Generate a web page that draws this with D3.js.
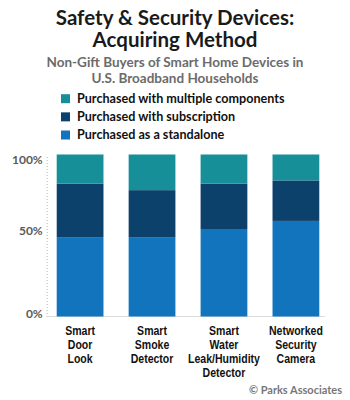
<!DOCTYPE html>
<html>
<head>
<meta charset="utf-8">
<script src="https://cdn.jsdelivr.net/npm/d3@7"></script>
<style>
  html, body { margin: 0; padding: 0; background: #fff; }
  svg { display: block; }
</style>
</head>
<body>
<svg id="chart" width="350" height="400"></svg>
<script>
// ---- Data ----
const categories = [
  ["Smart", "Door", "Look"],
  ["Smart", "Smoke", "Detector"],
  ["Smart", "Water", "Leak/Humidity", "Detector"],
  ["Networked", "Security", "Camera"]
];
const seriesNames = [
  "Purchased as a standalone",
  "Purchased with subscription",
  "Purchased with multiple components"
];
const standalone = [49, 49, 54, 59];
const subscription = [33, 29, 28, 25];
const multiple = [18, 22, 18, 16];
const yTicks = [0, 50, 100];
const yTickLabels = ["0%", "50%", "100%"];

const colors = ["#1174bc", "#0c416c", "#168f99"];

// ---- Build ----
const svg = d3.select("#chart");
const font = "Lato, 'Open Sans', sans-serif";

const rows = categories.map((c, i) => ({
  key: i,
  standalone: standalone[i],
  subscription: subscription[i],
  multiple: multiple[i]
}));
const keys = ["standalone", "subscription", "multiple"];
const stacked = d3.stack().keys(keys)(rows);

const x = d3.scaleBand()
  .domain(categories.map((c, i) => i))
  .range([47, 329])
  .paddingInner(0.35)
  .paddingOuter(0.135);
const y = d3.scaleLinear().domain([0, 100]).range([316.5, 154.5]);

// Title
const title = svg.append("text")
  .attr("text-anchor", "middle")
  .attr("font-family", font).attr("font-weight", 700)
  .attr("font-size", 20.5).attr("fill", "#1a1a1a");
title.append("tspan").attr("x", 175).attr("y", 25).text("Safety & Security Devices:");
title.append("tspan").attr("x", 175).attr("y", 47).text("Acquiring Method");

const sub = svg.append("text")
  .attr("text-anchor", "middle")
  .attr("font-family", font).attr("font-weight", 700)
  .attr("font-size", 13.5).attr("fill", "#6b6b6b");
sub.append("tspan").attr("x", 175).attr("y", 67).text("Non-Gift Buyers of Smart Home Devices in");
sub.append("tspan").attr("x", 175).attr("y", 83).text("U.S. Broadband Households");

// Legend (top to bottom: multiple, subscription, standalone)
const legendOrder = [2, 1, 0];
const legendY = d3.scalePoint().domain(legendOrder).range([98.7, 135]);
const lg = svg.append("g");
legendOrder.forEach(k => {
  lg.append("rect")
    .attr("x", 61).attr("y", legendY(k) - 4.5)
    .attr("width", 9).attr("height", 9)
    .attr("fill", colors[k]);
  lg.append("text")
    .attr("x", 77).attr("y", legendY(k))
    .attr("dy", "0.35em")
    .attr("font-family", font).attr("font-weight", 700)
    .attr("font-size", 12.6).attr("fill", "#111")
    .text(seriesNames[k]);
});

// Axis
const labelNudge = {0: -3.5, 50: -5.5, 100: 4.5};
const yAxis = d3.axisLeft(y)
  .tickValues(yTicks)
  .tickFormat((d, i) => yTickLabels[i])
  .tickSizeInner(0).tickSizeOuter(0).tickPadding(4);
const ag = svg.append("g").attr("transform", "translate(46.7,0)").call(yAxis);
ag.select(".domain").attr("stroke", "#b5b5b5").attr("stroke-dasharray", "1,2");
ag.selectAll(".tick text")
  .attr("font-family", font).attr("font-weight", 700)
  .attr("font-size", 12).attr("fill", "#5a5a5a")
  .attr("dy", d => (labelNudge[d] + 4) + "px");

// Baseline
svg.append("line")
  .attr("x1", 46).attr("x2", 325)
  .attr("y1", y(0)).attr("y2", y(0))
  .attr("stroke", "#dcdcdc").attr("stroke-width", 1);

// Bars
stacked.forEach((layer, li) => {
  svg.append("g").attr("fill", colors[li])
    .selectAll("rect").data(layer).join("rect")
    .attr("x", d => x(d.data.key))
    .attr("width", x.bandwidth())
    .attr("y", d => y(d[1]))
    .attr("height", d => y(d[0]) - y(d[1]));
});

// Category labels (condensed bold look via horizontal compression)
const cat = svg.append("g");
const catTexts = [];
categories.forEach((lines, i) => {
  const cx = x(i) + x.bandwidth() / 2;
  const g = cat.append("g").attr("transform", `translate(${cx},0)`);
  const t = g.append("text")
    .attr("text-anchor", "middle")
    .attr("font-family", "'Liberation Sans', Arial, sans-serif")
    .attr("font-weight", 700).attr("font-size", 12.5).attr("fill", "#111");
  lines.forEach((ln, j) => {
    t.append("tspan")
      .attr("x", 0)
      .attr("y", 335 + j * 14)
      .text(ln);
  });
  catTexts.push({g, t});
});
// compress so that "Leak/Humidity" is ~72px wide, as in the reference
let refW = 0;
cat.selectAll("tspan").each(function() {
  if (this.textContent === "Leak/Humidity") refW = this.getComputedTextLength();
});
const sx = refW > 0 ? Math.min(1, 72 / refW) : 0.8;
catTexts.forEach(({t}) => t.attr("transform", `scale(${sx},1)`));

// Credit
svg.append("text")
  .attr("x", 342).attr("y", 394)
  .attr("text-anchor", "end")
  .attr("font-family", font).attr("font-weight", 700)
  .attr("font-size", 11).attr("fill", "#777")
  .text("\u00A9 Parks Associates");
</script>
</body>
</html>
